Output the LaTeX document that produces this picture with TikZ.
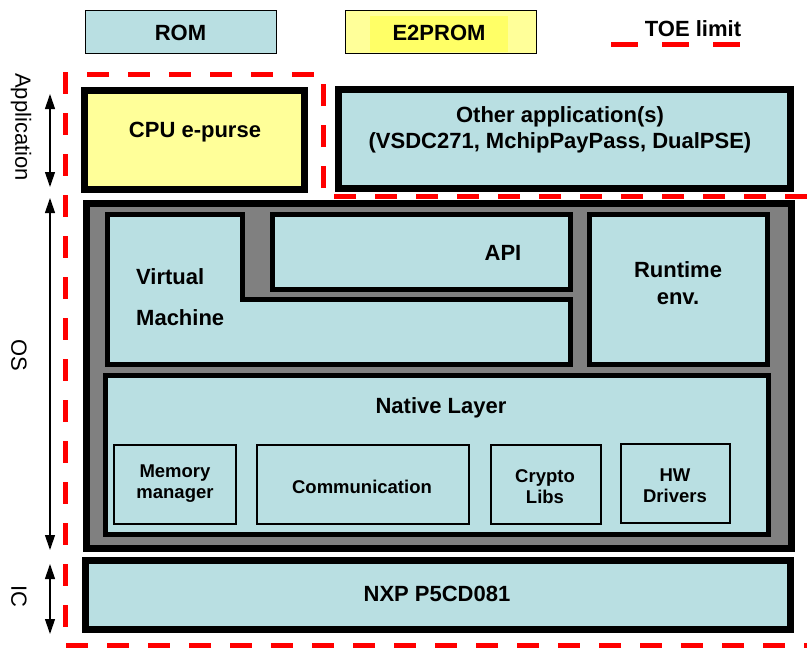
\documentclass[tikz,border=0pt]{standalone}
\usepackage{fontspec}
\setmainfont{Liberation Sans}
\usetikzlibrary{arrows.meta}
\definecolor{lblue}{RGB}{185,223,226}
\definecolor{lyel}{RGB}{255,255,153}
\definecolor{byel}{RGB}{255,255,102}
\definecolor{osgray}{RGB}{128,128,128}
\definecolor{toered}{RGB}{255,0,0}
\tikzset{
  big/.style={font=\bfseries\fontsize{22}{26}\selectfont, align=center, inner sep=0},
  small/.style={font=\bfseries\fontsize{18.5}{21}\selectfont, align=center, inner sep=0},
  side/.style={font=\fontsize{22}{25}\selectfont, rotate=-90, inner sep=0},
  legbox/.style={draw, line width=1pt, inner sep=0},
  outerbox/.style={draw, line width=7pt, inner sep=0},
  innerbox/.style={draw, line width=5pt, inner sep=0, fill=lblue},
  subbox/.style={draw, line width=2.5pt, fill=lblue, inner sep=0},
  toe/.style={draw=toered, line width=5pt, dash pattern=on 22pt off 19pt},
  dimarrow/.style={line width=1.2pt, {Triangle[length=15pt,width=10pt]}-{Triangle[length=15pt,width=10pt]}}
}
\begin{document}
\begin{tikzpicture}[x=1pt,y=-1pt]
\useasboundingbox[fill=white] (0,0) rectangle (807,648);
% legend
\node[legbox, fill=lblue, minimum width=191pt, minimum height=43pt] (rom) at (180.5,31.5) {};
\node[big] (romt) at (180.5,33) {ROM};
\node[legbox, fill=lyel, minimum width=191pt, minimum height=43pt] (eep) at (440.5,31.5) {};
\node[fill=byel, inner sep=0, minimum width=138pt, minimum height=36pt] (eepin) at (439,34) {};
\node[big] (eept) at (439,33) {E2PROM};
\node[big] (toet) at (693,29) {TOE limit};
\coordinate (toeA) at (611,44);
\coordinate (toeB) at (760,44);
\draw[toered, line width=5pt, dash pattern=on 27pt off 24pt] (toeA) -- (toeB);
% applications
\node[outerbox, fill=lyel, minimum width=220pt, minimum height=99pt] (cpu) at (194.5,140) {};
\node[big] (cput) at (195,132) {CPU e-purse};
\node[outerbox, fill=lblue, minimum width=452pt, minimum height=99pt] (other) at (564.5,139) {};
\node[big] (othert) at (560,130) {Other application(s)\\[0pt](VSDC271, MchipPayPass, DualPSE)};
% OS
\node[outerbox, fill=osgray, minimum width=705pt, minimum height=345pt] (os) at (439,376) {};
\draw[line width=5pt, fill=lblue] (107.5,214.5) -- (242.5,214.5) -- (242.5,299) -- (570.5,299) -- (570.5,364.5) -- (107.5,364.5) -- cycle;
\node[big, align=left, anchor=west] (vmt) at (136,297) {Virtual\\[15pt]Machine};
\node[innerbox, minimum width=298pt, minimum height=75pt] (api) at (421.5,252) {};
\node[big] (apit) at (503,253) {API};
\node[innerbox, minimum width=178pt, minimum height=150pt] (rt) at (678.5,289.5) {};
\node[big] (rtt) at (678,283) {Runtime\\[1pt]env.};
\node[innerbox, minimum width=663pt, minimum height=159pt] (nat) at (437,455) {};
\node[big] (natt) at (441,408) {Native Layer};
\node[subbox, minimum width=122pt, minimum height=79pt] (mem) at (175,484.5) {};
\node[small] (memt) at (175,484) {Memory\\manager};
\node[subbox, minimum width=212pt, minimum height=79pt] (com) at (363,484.5) {};
\node[small] (comt) at (362,487) {Communication};
\node[subbox, minimum width=110pt, minimum height=79pt] (cry) at (546,484.5) {};
\node[small] (cryt) at (545,487) {Crypto\\Libs};
\node[subbox, minimum width=109pt, minimum height=79pt] (hw) at (675.5,483.5) {};
\node[small] (hwt) at (675,486) {HW\\Drivers};
% IC
\node[outerbox, fill=lblue, minimum width=705pt, minimum height=69pt] (nxp) at (438,595) {};
\node[big] (nxpt) at (437,594) {NXP P5CD081};
% TOE limit
\draw[toe] (807,196) -- (323,196) -- (323,74.5) -- (65,74.5) -- (65,645) -- (807,645);
% side labels
\node[side] (appl) at (21,127) {Application};
\node[side] (osl) at (19,355) {OS};
\node[side] (icl) at (19,596) {IC};
\coordinate (appTop) at (50,94);
\coordinate (appBot) at (50,187);
\coordinate (osTop) at (50,198);
\coordinate (osBot) at (50,550);
\coordinate (icTop) at (50,564);
\coordinate (icBot) at (50,634);
\draw[dimarrow] (appTop) -- (appBot);
\draw[dimarrow] (osTop) -- (osBot);
\draw[dimarrow] (icTop) -- (icBot);
\end{tikzpicture}
\end{document}
